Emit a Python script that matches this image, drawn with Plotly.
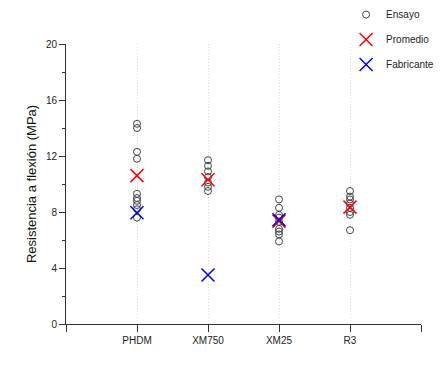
import plotly.graph_objects as go

categories = ["PHDM", "XM750", "XM25", "R3"]
ensayo = {
    "PHDM": [14.3, 14.0, 12.3, 11.8, 9.3, 9.0, 8.8, 8.5, 8.2, 7.6],
    "XM750": [11.7, 11.3, 10.9, 10.5, 10.1, 9.8, 9.5],
    "XM25": [8.9, 8.3, 7.8, 7.6, 7.3, 6.8, 6.6, 6.4, 5.9],
    "R3": [9.5, 9.1, 8.9, 8.6, 8.3, 8.0, 7.8, 6.7],
}
promedio = [10.6, 10.3, 7.35, 8.35]
fabricante = [7.95, 3.5, 7.45, None]

font = "Liberation Sans, Arial, sans-serif"
positions = [i + 1 for i in range(len(categories))]

ex, ey = [], []
for pos, cat in zip(positions, categories):
    for v in ensayo[cat]:
        ex.append(pos)
        ey.append(v)

fig = go.Figure()
fig.add_trace(go.Scatter(
    x=ex, y=ey, mode="markers", name="Ensayo", legendgroup="a",
    marker=dict(symbol="circle-open", size=7, color="#444444", line=dict(width=1)),
))
fig.add_trace(go.Scatter(
    x=positions, y=promedio, mode="markers", name="Promedio", legendgroup="b",
    marker=dict(symbol="x-thin-open", size=13, color="red", line=dict(width=1.5, color="red")),
))
fx = [p for p, v in zip(positions, fabricante) if v is not None]
fy = [v for v in fabricante if v is not None]
fig.add_trace(go.Scatter(
    x=fx, y=fy, mode="markers", name="Fabricante", legendgroup="c",
    marker=dict(symbol="x-thin-open", size=13, color="blue", line=dict(width=1.5, color="blue")),
))

fig.update_layout(
    width=444, height=370,
    margin=dict(l=58, r=31, t=36, b=54, autoexpand=False),
    paper_bgcolor="white", plot_bgcolor="white",
    font=dict(family=font, size=10, color="#222"),
    showlegend=True,
    legend=dict(x=0.789, y=1.157, xanchor="left", yanchor="top",
                bgcolor="rgba(0,0,0,0)", font=dict(size=10, color="#222"),
                tracegroupgap=6, itemsizing="trace"),
    xaxis=dict(
        range=[0, 5], tickmode="array", tickvals=positions, ticktext=categories,
        showline=True, linecolor="#333", linewidth=1,
        ticks="outside", ticklen=7, tickcolor="#333",
        showgrid=True, gridcolor="#dddddd", griddash="1px,2px", gridwidth=1,
        zeroline=False, automargin=False,
        minor=dict(tickmode="array", tickvals=[0, 5], ticks="outside", ticklen=7,
                   tickcolor="#333", showgrid=False),
    ),
    yaxis=dict(
        range=[0, 20], tickmode="array", tickvals=[0, 4, 8, 12, 16, 20],
        showline=True, linecolor="#333", linewidth=1,
        ticks="outside", ticklen=6, tickcolor="#333",
        showgrid=False, zeroline=False, automargin=False,
        minor=dict(dtick=2, tick0=0, ticks="outside", ticklen=3, tickcolor="#333", showgrid=False),
        title=dict(text="Resistencia a flexión (MPa)", font=dict(size=13, color="#111"), standoff=6),
    ),
)

fig.write_html("out.html")
